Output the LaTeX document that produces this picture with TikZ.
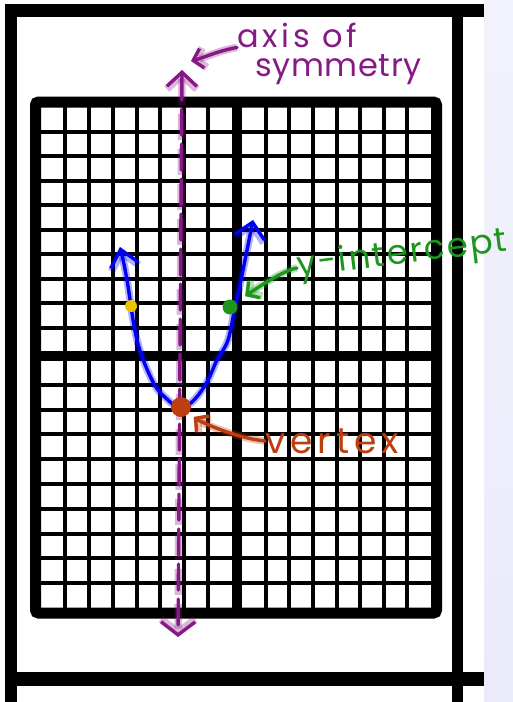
\documentclass[tikz,border=0pt]{standalone}
\usepackage{fontspec}
\newfontfamily\handfont{Poppins}
\usetikzlibrary{arrows.meta}
\definecolor{axispurple}{RGB}{135,25,135}
\definecolor{intgreen}{RGB}{30,150,30}
\definecolor{vertexred}{RGB}{190,62,15}
\definecolor{curveblue}{RGB}{0,0,245}
\definecolor{dotyellow}{RGB}{240,195,0}
\definecolor{lavender}{RGB}{234,234,250}

\begin{document}
\begin{tikzpicture}[x=1pt, y=-1pt,
    framebar/.style={fill=black},
    gridline/.style={draw=black, line width=4pt},
    axisbar/.style={draw=black, line width=10pt},
    ink/.style={line width=3.4pt, line cap=round, line join=round},
    glow/.style={preaction={draw=#1, line width=7.5pt, draw opacity=.3}},
    axisdash/.style={dash pattern=on 26pt off 9pt},
    hand/.style 2 args={inner sep=0pt, font=\handfont\fontsize{#1}{#1}\selectfont\addfontfeature{LetterSpace=#2}},
    barb/.style={-{Straight Barb[length=9pt,width=20pt]}},
    dot/.style={circle, inner sep=0pt}]
	\useasboundingbox (0,0) rectangle (513,702);
	% Hintergrund
	\fill[white] (0,0) rectangle (484,702);
	\shade[top color=lavender!60!white, bottom color=lavender] (484,0) rectangle (513,702);
	
	% Rahmen
	\fill[framebar] (5,4) rectangle (484,17);
	\fill[framebar] (5,672) rectangle (484,686);
	\fill[framebar] (5,4) rectangle (17,702);
	\fill[framebar] (452,4) rectangle (463,702);
	
	% Gitter
	\foreach \i in {1,...,7} {
		\draw[gridline] ({41+\i*23.875},107) -- ({41+\i*23.875},608);
		\draw[gridline] ({242+\i*23.625},107) -- ({242+\i*23.625},608);
	}
	\foreach \j in {1,...,9} {
		\draw[gridline] (41,{107+\j*24.5}) -- (431,{107+\j*24.5});
		\draw[gridline] (41,{360+\j*24.8}) -- (431,{360+\j*24.8});
	}
	\draw[axisbar] (237,107) -- (237,608);
	\draw[axisbar] (41,356) -- (431,356);
	\draw[line width=11pt, rounded corners=3pt] (35.5,102) rectangle (436.5,613);
	
	% Symmetrieachse
	\coordinate (axistop) at (182,70);
	\coordinate (axisbot) at (178,637);
	\draw[ink, axispurple, axisdash,
		{Straight Barb[length=14pt,width=30pt]}-{Straight Barb[length=13pt,width=34pt]},
		preaction={draw=axispurple, line width=7.5pt, draw opacity=.3, axisdash}] (axistop) -- (axisbot);
	
	% Parabel
	\draw[ink, curveblue, {Straight Barb[length=16pt,width=28pt]}-{Straight Barb[length=15pt,width=30pt]}, glow=curveblue]
		plot[smooth, tension=0.6] coordinates {(120,247) (127,280) (137,340) (153,382) (168,400) (181,408)
		(194,400) (207,382) (217,360) (228,340) (235,307) (241,280) (253,220)};
	
	% Punkte
	\node[dot, fill=dotyellow, minimum size=12pt] (ydot) at (131,306) {};
	\node[dot, fill=intgreen, minimum size=15pt] (yint) at (230,307) {};
	\node[dot, fill=vertexred, minimum size=20pt] (vertex) at (181,407) {};
	
	% Beschriftungen
	\node[hand={32}{12}, axispurple, anchor=base west] (axislabel) at (237,47) {axis of};
	\node[hand={32}{2}, axispurple, anchor=base west] (symlabel) at (255,76) {symmetry};
	\coordinate (axispoint) at (191,61);
	\draw[ink, axispurple, barb, glow=axispurple] (axislabel.south west) .. controls +(-18,3) and +(12,-3) .. (axispoint);
	
	\node[hand={34}{6}, intgreen, anchor=west, rotate=7] (intlabel) at (297,268) {y-intercept};
	\draw[ink, intgreen, barb, shorten >=11pt, glow=intgreen] (intlabel.west) .. controls +(-15,2) and +(14,-10) .. (yint);
	
	\node[hand={36}{14}, vertexred, anchor=west] (vertexlabel) at (265,441) {vertex};
	\draw[ink, vertexred, barb, shorten >=6pt, glow=vertexred] (vertexlabel.west) .. controls +(-30,-3) and +(18,14) .. (vertex);
\end{tikzpicture}
\end{document}
